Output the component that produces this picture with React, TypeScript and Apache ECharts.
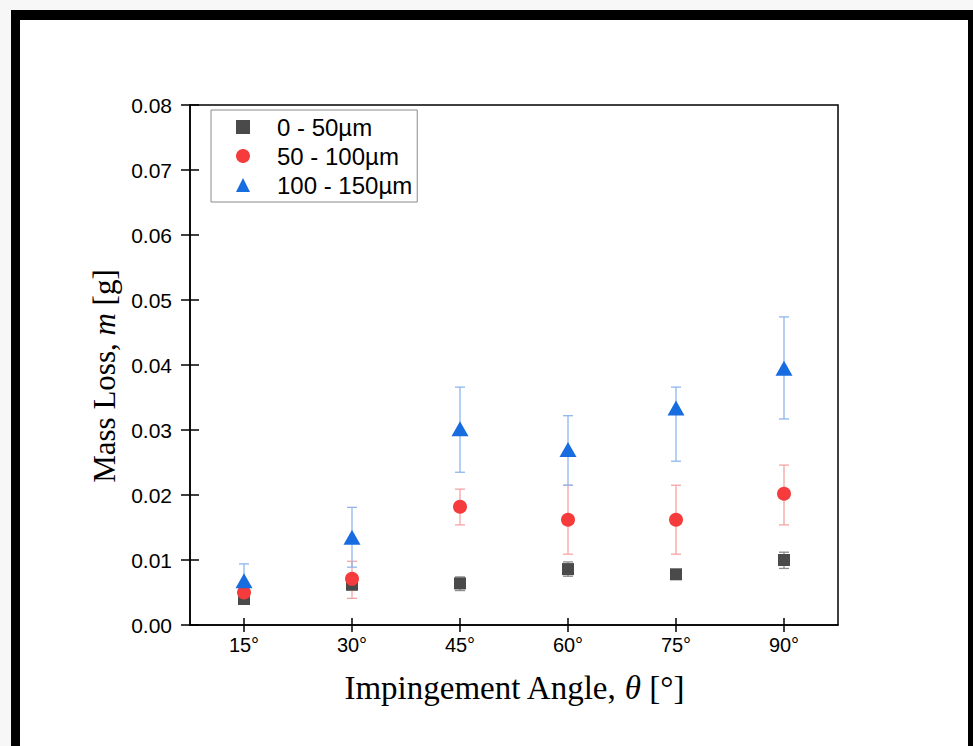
import React, { useEffect, useRef } from "react";
import * as echarts from "echarts";

const categories = ["15°", "30°", "45°", "60°", "75°", "90°"];
const seriesNames = ["0 - 50µm", "50 - 100µm", "100 - 150µm"];

const small = [0.004, 0.0062, 0.0064, 0.0086, 0.0078, 0.01];
const smallLow = [0.0035, 0.0054, 0.0053, 0.0075, 0.0076, 0.0087];
const smallHigh = [0.0045, 0.0068, 0.0074, 0.0097, 0.008, 0.0112];

const medium = [0.005, 0.0071, 0.0182, 0.0162, 0.0162, 0.0202];
const mediumLow = [0.004, 0.0041, 0.0154, 0.0109, 0.0109, 0.0154];
const mediumHigh = [0.006, 0.0098, 0.0209, 0.0215, 0.0215, 0.0246];

const large = [0.0068, 0.0135, 0.0302, 0.027, 0.0334, 0.0395];
const largeLow = [0.0042, 0.0089, 0.0235, 0.0215, 0.0252, 0.0317];
const largeHigh = [0.0094, 0.0181, 0.0366, 0.0322, 0.0366, 0.0474];

const SANS = "'Liberation Sans', Arial, sans-serif";
const SERIF = "'Liberation Serif', 'Times New Roman', serif";

function errorSeries(low: number[], high: number[], color: string) {
  return {
    type: "custom",
    name: "err-" + color,
    xAxisIndex: 0,
    yAxisIndex: 0,
    z: 1,
    silent: true,
    data: low.map((l, i) => [i, l, high[i]]),
    renderItem: (params: any, api: any) => {
      const x = api.value(0);
      const lo = api.coord([x, api.value(1)]);
      const hi = api.coord([x, api.value(2)]);
      const w = 5;
      const style = { stroke: color, lineWidth: 1.3 };
      return {
        type: "group",
        children: [
          { type: "line", shape: { x1: lo[0], y1: lo[1], x2: hi[0], y2: hi[1] }, style },
          { type: "line", shape: { x1: lo[0] - w, y1: lo[1], x2: lo[0] + w, y2: lo[1] }, style },
          { type: "line", shape: { x1: hi[0] - w, y1: hi[1], x2: hi[0] + w, y2: hi[1] }, style },
        ],
      };
    },
  };
}

export default function App() {
  const ref = useRef<HTMLDivElement>(null);
  useEffect(() => {
    document.body.style.margin = "0";
    if (!ref.current) return;
    const chart = echarts.init(ref.current, undefined, { renderer: "svg" });
    const axisLineStyle = { color: "#000", width: 1.5 };
    const xBase = {
      type: "category",
      data: categories,
      boundaryGap: true,
      position: "bottom",
      splitLine: { show: false },
    };
    const yBase = {
      type: "value",
      min: 0,
      max: 0.08,
      interval: 0.01,
      position: "left",
      splitLine: { show: false },
    };
    chart.setOption({
      animation: false,
      backgroundColor: "#ffffff",
      grid: {
        left: 190,
        top: 105,
        right: 135,
        bottom: 121,
        show: true,
        borderColor: "#000",
        borderWidth: 1.5,
        backgroundColor: "transparent",
      },
      legend: {
        orient: "vertical",
        left: 211,
        top: 110,
        itemWidth: 14,
        itemHeight: 14,
        itemGap: 5,
        padding: [5, 5, 5, 25],
        borderColor: "#8a8a8a",
        borderWidth: 1,
        backgroundColor: "#fff",
        selectedMode: false,
        textStyle: {
          fontFamily: SANS,
          fontSize: 24,
          lineHeight: 24,
          color: "#000",
          padding: [0, 0, 0, 22],
        },
        data: [
          { name: seriesNames[0], icon: "rect" },
          { name: seriesNames[1], icon: "circle" },
          { name: seriesNames[2], icon: "triangle" },
        ],
      },
      xAxis: [
        {
          ...xBase,
          name: "Impingement Angle, {i|θ} [°]",
          nameLocation: "middle",
          nameGap: 46,
          nameTextStyle: {
            fontFamily: SERIF,
            fontSize: 33,
            color: "#000",
            rich: { i: { fontFamily: SERIF, fontSize: 33, fontStyle: "italic", color: "#000" } },
          },
          axisLine: { show: true, lineStyle: axisLineStyle },
          axisTick: { show: true, alignWithLabel: true, length: 7, lineStyle: axisLineStyle },
          axisLabel: { fontFamily: SANS, fontSize: 20, color: "#000", margin: 10 },
        },
        {
          ...xBase,
          axisLine: { show: false },
          axisTick: { show: true, inside: true, alignWithLabel: true, length: 7, lineStyle: axisLineStyle },
          axisLabel: { show: false },
        },
      ],
      yAxis: [
        {
          ...yBase,
          name: "Mass Loss, {i|m} [g]",
          nameLocation: "middle",
          nameGap: 67,
          nameTextStyle: {
            fontFamily: SERIF,
            fontSize: 31,
            color: "#000",
            padding: [0, 22, 0, 0],
            rich: { i: { fontFamily: SERIF, fontSize: 31, fontStyle: "italic", color: "#000" } },
          },
          axisLine: { show: true, lineStyle: axisLineStyle },
          axisTick: { show: true, length: 9, lineStyle: axisLineStyle },
          axisLabel: {
            fontFamily: SANS,
            fontSize: 21,
            color: "#000",
            margin: 18,
            formatter: (v: number) => v.toFixed(2),
          },
        },
        {
          ...yBase,
          axisLine: { show: false },
          axisTick: { show: true, inside: true, length: 9, lineStyle: axisLineStyle },
          axisLabel: { show: false },
        },
      ],
      graphic: [
        { type: "rect", silent: true, z: -10, shape: { x: 0, y: 0, width: 973, height: 10 }, style: { fill: "#f7f7f7" } },
        { type: "rect", silent: true, z: -10, shape: { x: 0, y: 0, width: 11, height: 746 }, style: { fill: "#f7f7f7" } },
        { type: "rect", silent: true, z: 100, shape: { x: 11, y: 10, width: 962, height: 10 }, style: { fill: "#000" } },
        { type: "rect", silent: true, z: 100, shape: { x: 11, y: 10, width: 9, height: 736 }, style: { fill: "#000" } },
        { type: "rect", silent: true, z: 100, shape: { x: 968, y: 10, width: 5, height: 736 }, style: { fill: "#000" } },
      ],
      series: [
        errorSeries(smallLow, smallHigh, "#8c8c8c"),
        errorSeries(mediumLow, mediumHigh, "#f7a3a3"),
        errorSeries(largeLow, largeHigh, "#8fb6ee"),
        {
          type: "scatter",
          name: seriesNames[0],
          symbol: "rect",
          symbolSize: 12,
          z: 3,
          itemStyle: { color: "#4a4a4a", opacity: 1 },
          data: small,
        },
        {
          type: "scatter",
          name: seriesNames[1],
          symbol: "circle",
          symbolSize: 14,
          z: 4,
          itemStyle: { color: "#f53b3b", opacity: 1 },
          data: medium,
        },
        {
          type: "scatter",
          name: seriesNames[2],
          symbol: "triangle",
          symbolSize: [17, 15],
          z: 5,
          itemStyle: { color: "#176de0", opacity: 1 },
          data: large,
        },
      ],
    });
    return () => chart.dispose();
  }, []);
  return <div ref={ref} style={{ width: 973, height: 746 }} />;
}
